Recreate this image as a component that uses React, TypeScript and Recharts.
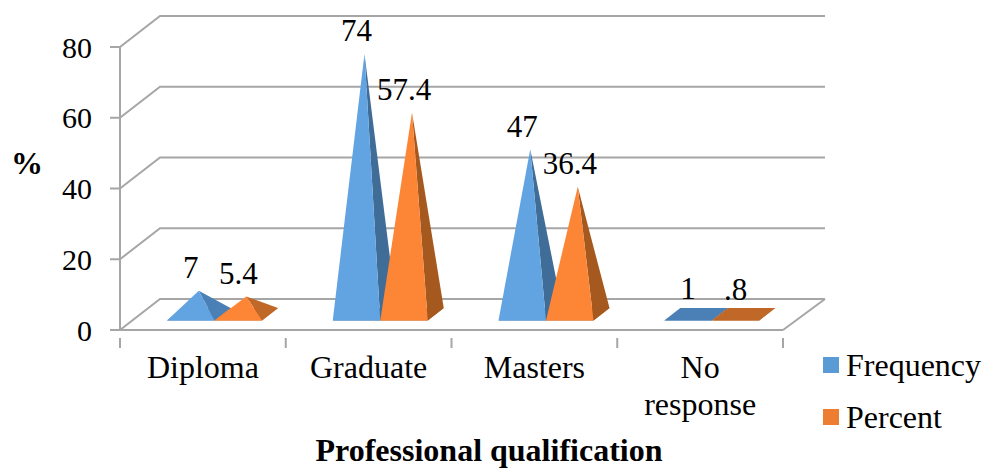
import { BarChart, Bar, XAxis, YAxis, CartesianGrid, Legend, LabelList } from "recharts";

const categories = ["Diploma", "Graduate", "Masters", "No response"];
const frequency = [7, 74, 47, 1];
const percent = [5.4, 57.4, 36.4, 0.8];
const yTicks = [0, 20, 40, 60, 80];

const chart_data = categories.map((name, i) => ({ name, Frequency: frequency[i], Percent: percent[i] }));

const SERIF = "'Liberation Serif', serif";
const GRID = "#a6a6a6";
const PLOT_WIDTH = 663;
const BAND = PLOT_WIDTH / categories.length;

// fake 3D: how far the back wall sits from the front plane
const WALL_DX = 40;
const WALL_DY = 31;
// pyramids sit a bit off the band centre and above the front edge
const BAR_SHIFT = 12;
const BASE_LIFT = 9.5;
const APEX_LIFT = 14.5;
const DEPTH_DX = 16;
const DEPTH_DY = 12.5;

function makePyramid(front: string, side: string, flatSide: string) {
    return function Pyramid(props: any) {
        const { x, y, width, height } = props;
        const left = x + BAR_SHIFT;
        const right = left + width;
        const base = y + height - BASE_LIFT;
        const back = base - DEPTH_DY;
        const apexX = left + width / 2 + DEPTH_DX / 2;
        const apexY = y - APEX_LIFT;
        // short pyramids catch more light on the side face
        const shade = height < 40 ? flatSide : side;
        return (
            <g>
                <polygon points={`${left},${base} ${right},${base} ${right + DEPTH_DX},${back} ${left + DEPTH_DX},${back}`} fill={shade} />
                <polygon points={`${right},${base} ${right + DEPTH_DX},${back} ${apexX},${apexY}`} fill={shade} />
                <polygon points={`${left},${base} ${right},${base} ${apexX},${apexY}`} fill={height < 6 ? shade : front} />
            </g>
        );
    };
}

function ValueLabel(props: any) {
    const { x, y, width, value } = props;
    return (
        <text x={x + BAR_SHIFT + width / 2} y={y - 27} textAnchor="middle" fontFamily={SERIF} fontSize={31} fill="#000">
            {String(value).replace(/^0\./, ".")}
        </text>
    );
}

function WallLine(props: any) {
    const { x1, x2, y1 } = props;
    const isFloor = y1 > 320;
    return (
        <g>
            <polyline
                points={`${x1},${y1} ${x1 + WALL_DX},${y1 - WALL_DY} ${x2 + WALL_DX + 2},${y1 - WALL_DY}`}
                fill="none"
                stroke={GRID}
                strokeWidth={2}
            />
            {isFloor && <line x1={x2} y1={y1} x2={x2 + WALL_DX + 2} y2={y1 - WALL_DY} stroke={GRID} strokeWidth={2} />}
        </g>
    );
}

function CategoryTick(props: any) {
    const { x, y, payload, index } = props;
    const words = String(payload.value).split(" ");
    return (
        <g>
            <line x1={x - BAND / 2} x2={x - BAND / 2} y1={y} y2={y + 10} stroke={GRID} strokeWidth={2} />
            {index === categories.length - 1 && (
                <line x1={x + BAND / 2} x2={x + BAND / 2} y1={y} y2={y + 10} stroke={GRID} strokeWidth={2} />
            )}
            {words.map((w, i) => (
                <text key={w} x={x} y={378 + i * 37} textAnchor="middle" fontFamily={SERIF} fontSize={32} fill="#000">
                    {w}
                </text>
            ))}
        </g>
    );
}

function LegendBox(props: any) {
    return (
        <div>
            {props.payload.map((p: any) => (
                <div key={p.value} style={{ display: "flex", alignItems: "center", height: 52 }}>
                    <span style={{ width: 16, height: 16, background: p.color, marginRight: 7 }} />
                    <span style={{ fontFamily: SERIF, fontSize: 32, color: "#000" }}>{p.value}</span>
                </div>
            ))}
        </div>
    );
}

export default function App() {
    return (
        <div style={{ position: "absolute", left: 0, top: 0 }}>
            <BarChart
                width={990}
                height={469}
                data={chart_data}
                margin={{ top: 47, right: 40, bottom: 0, left: 0 }}
                barSize={47.5}
                barGap={0}
            >
                <CartesianGrid vertical={false} horizontal={WallLine as any} />
                <XAxis
                    dataKey="name"
                    height={139}
                    axisLine={{ stroke: GRID, strokeWidth: 2 }}
                    tickLine={false}
                    tick={CategoryTick as any}
                    interval={0}
                />
                <YAxis
                    width={120}
                    domain={[0, 80]}
                    ticks={yTicks}
                    axisLine={{ stroke: GRID, strokeWidth: 2 }}
                    tickLine={{ stroke: GRID, strokeWidth: 2 }}
                    tickSize={10}
                    tickMargin={18}
                    tick={{ fontFamily: SERIF, fontSize: 30, fill: "#000" }}
                />
                <Bar dataKey="Frequency" fill="#5b9bd5" shape={makePyramid("#62a3e2", "#3f6d98", "#4a80b5")} isAnimationActive={false}>
                    <LabelList dataKey="Frequency" content={ValueLabel as any} />
                </Bar>
                <Bar dataKey="Percent" fill="#ed7d31" shape={makePyramid("#fd8536", "#a6591f", "#c06828")} isAnimationActive={false}>
                    <LabelList dataKey="Percent" content={ValueLabel as any} />
                </Bar>
                <Legend
                    content={LegendBox as any}
                    layout="vertical"
                    align="right"
                    verticalAlign="middle"
                    wrapperStyle={{ position: "absolute", left: 823, top: 339, width: 167, right: "auto", bottom: "auto" }}
                />
                <text x={27} y={174} textAnchor="middle" fontFamily={SERIF} fontSize={32} fontWeight="bold" fill="#000">
                    %
                </text>
                <text x={489} y={461} textAnchor="middle" fontFamily={SERIF} fontSize={32} fontWeight="bold" fill="#000">
                    Professional qualification
                </text>
            </BarChart>
        </div>
    );
}
